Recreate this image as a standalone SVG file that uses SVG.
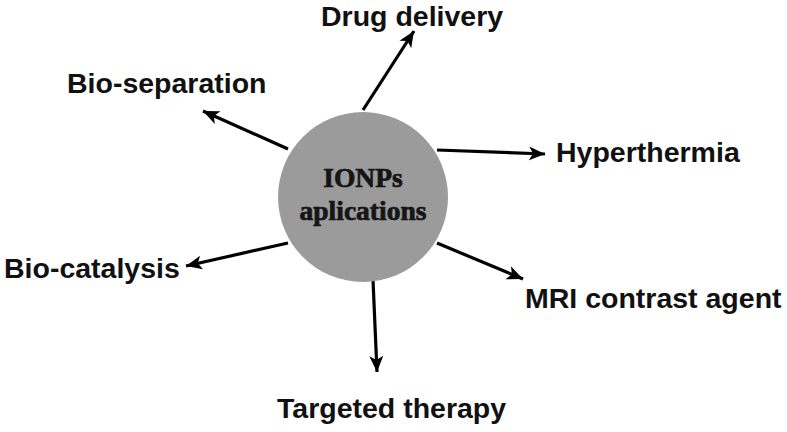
<svg xmlns="http://www.w3.org/2000/svg" width="787" height="432" viewBox="0 0 787 432">
<style>
.lbl{font-family:"Liberation Sans",Arial,sans-serif;font-weight:bold;font-size:28.5px;fill:#111}
.ctr{font-family:"Liberation Serif","Times New Roman",serif;font-weight:bold;font-size:27.5px;fill:#151515;stroke:#151515;stroke-width:0.7;text-anchor:middle}
.arr{stroke:#000;stroke-width:3.2;fill:none;marker-end:url(#ah)}
</style>
<defs>
<marker id="ah" markerUnits="userSpaceOnUse" markerWidth="18" markerHeight="16" refX="16" refY="7" orient="auto" viewBox="0 0 18 14">
<path d="M0,0 L16,7 L0,14 L4,7 Z" fill="#000"/>
</marker>
</defs>
<rect width="787" height="432" fill="#fff"/>
<g id="connectors">
<line class="arr" x1="288" y1="149" x2="203" y2="111"/>
<line class="arr" x1="363" y1="110" x2="414" y2="31"/>
<line class="arr" x1="437" y1="150" x2="545" y2="154"/>
<line class="arr" x1="288" y1="243" x2="186" y2="266"/>
<line class="arr" x1="437" y1="243" x2="523" y2="279"/>
<line class="arr" x1="373" y1="280" x2="377" y2="372"/>
</g>
<g id="center">
<circle cx="363" cy="197" r="85" fill="#9b9b9b"/>
<text class="ctr" x="363" y="187">IONPs</text>
<text class="ctr" x="363" y="220">aplications</text>
</g>
<g id="drug-delivery"><text class="lbl" x="321" y="26">Drug delivery</text></g>
<g id="bio-separation"><text class="lbl" x="67" y="93">Bio-separation</text></g>
<g id="hyperthermia"><text class="lbl" x="556" y="162">Hyperthermia</text></g>
<g id="bio-catalysis"><text class="lbl" x="4" y="278">Bio-catalysis</text></g>
<g id="mri"><text class="lbl" x="525" y="308">MRI contrast agent</text></g>
<g id="targeted-therapy"><text class="lbl" x="277" y="418">Targeted therapy</text></g>
</svg>
